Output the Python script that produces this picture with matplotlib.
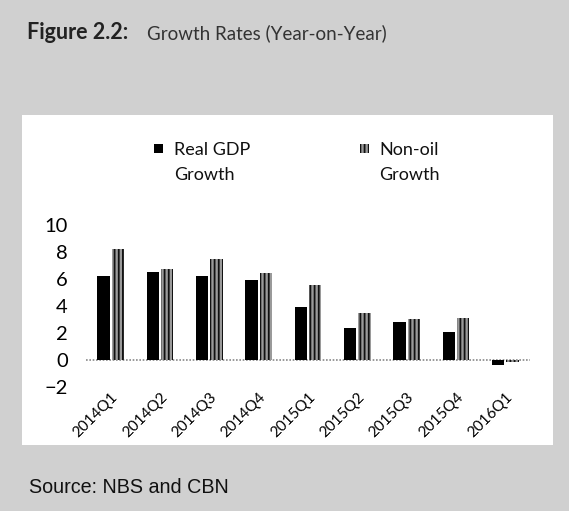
import numpy as np
import matplotlib.pyplot as plt
from matplotlib.patches import Rectangle

# growth rates, year-on-year (%)
quarters = ['2014Q1', '2014Q2', '2014Q3', '2014Q4', '2015Q1',
            '2015Q2', '2015Q3', '2015Q4', '2016Q1']
real_gdp = [6.21, 6.54, 6.23, 5.94, 3.96, 2.35, 2.84, 2.11, -0.36]
non_oil = [8.21, 6.71, 7.51, 6.44, 5.59, 3.46, 3.05, 3.14, -0.18]
yticks = [-2, 0, 2, 4, 6, 8, 10]
series = ['Real GDP\nGrowth', 'Non-oil\nGrowth']

plt.rcParams['font.family'] = ['Lato', 'DejaVu Sans']
plt.rcParams['hatch.linewidth'] = 1.3

fig = plt.figure(figsize=(5.69, 5.11), dpi=100)
fig.patch.set_facecolor('#d0d0d0')

# white chart panel sitting on the scanned page
panel = fig.add_axes([22/569, 1-445/511, (553-22)/569, (445-115)/511])
panel.set_facecolor('white')
panel.set_xticks([]); panel.set_yticks([])
for s in panel.spines.values():
    s.set_visible(False)

ax = fig.add_axes([86/569, 1-387/511, 444/569, 162/511])
ax.patch.set_alpha(0)

nonoil_fc = '#9a9a9a'
x = np.arange(len(quarters))
w = 0.25
ax.bar(x - 0.145, real_gdp, w, color='black', zorder=3)
ax.bar(x + 0.145, non_oil, w, facecolor=nonoil_fc, edgecolor='#111111',
       hatch='||||', linewidth=0, zorder=3)
ax.axhline(0, color='#888888', lw=1.2, ls=(0, (1, 1)), zorder=2)

ax.set_ylim(-2, 10)
ax.set_xlim(-0.5, len(quarters) - 0.5)
ax.set_yticks(yticks)
ax.set_xticks(x)
ax.set_xticklabels(quarters, rotation=45, ha='right', rotation_mode='anchor',
                   fontsize=11)
ax.tick_params(axis='y', labelsize=14.5, length=0, pad=13)
ax.tick_params(axis='x', length=0, pad=2)
for s in ax.spines.values():
    s.set_visible(False)

# legend: marker beside the first line, second line indented under the text
for (mx, tx), label, fc, hatch in zip([(154, 174), (360, 379)], series,
                                      ['black', nonoil_fc], [None, '||||']):
    fig.patches.append(Rectangle((mx/569, 1-153/511), 9/569, 9/511,
                                 transform=fig.transFigure, facecolor=fc,
                                 edgecolor='#111111', hatch=hatch, linewidth=0))
    top, bottom = label.split('\n')
    fig.text(tx/569, 1-150/511, top, fontsize=13, va='center', color='#111111')
    fig.text(tx/569, 1-175/511, bottom, fontsize=13, va='center', color='#111111')

fig.text(27/569, 1-39/511, 'Figure 2.2:', fontsize=15.5, fontweight='bold',
         color='#222222', va='baseline')
fig.text(147/569, 1-39/511, 'Growth Rates (Year-on-Year)', fontsize=13.5,
         color='#333333', va='baseline')
fig.text(29/569, 1-493/511, 'Source: NBS and CBN', fontsize=14.2,
         family='Liberation Sans', color='#111111', va='baseline')

fig.savefig('out.png', dpi=100)
